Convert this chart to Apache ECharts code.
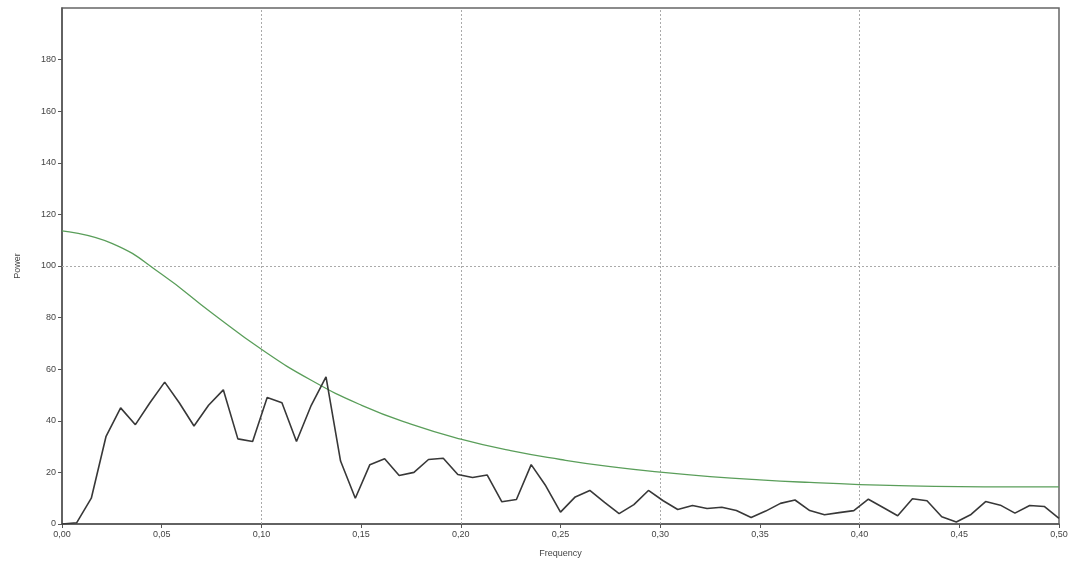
<!DOCTYPE html>
<html>
<head>
<meta charset="utf-8">
<script src="https://cdn.jsdelivr.net/npm/echarts@6/dist/echarts.min.js"></script>
<style>html,body{margin:0;padding:0;background:#fff}#c{width:1072px;height:565px}</style>
</head>
<body>
<div id="c"></div>
<script>
var freqs = [0, 0.0074, 0.0147, 0.0221, 0.0294, 0.0368, 0.0441, 0.0515, 0.0588, 0.0662, 0.0735, 0.0809, 0.0882, 0.0956, 0.1029, 0.1103, 0.1176, 0.1250, 0.1324, 0.1397, 0.1471, 0.1544, 0.1618, 0.1691, 0.1765, 0.1838, 0.1912, 0.1985, 0.2059, 0.2132, 0.2206, 0.2279, 0.2353, 0.2426, 0.2500, 0.2574, 0.2647, 0.2721, 0.2794, 0.2868, 0.2941, 0.3015, 0.3088, 0.3162, 0.3235, 0.3309, 0.3382, 0.3456, 0.3529, 0.3603, 0.3676, 0.3750, 0.3824, 0.3897, 0.3971, 0.4044, 0.4118, 0.4191, 0.4265, 0.4338, 0.4412, 0.4485, 0.4559, 0.4632, 0.4706, 0.4779, 0.4853, 0.4926, 0.5000];
var power = [0, 0.5, 10, 34, 45, 38.5, 47, 55, 47, 38, 46, 52, 33, 32, 49, 47, 32, 46, 57, 24.4, 10, 23, 25.3, 18.8, 20, 25, 25.5, 19.2, 18, 19, 8.6, 9.5, 23, 14.8, 4.6, 10.5, 13, 8.4, 4, 7.5, 13, 9, 5.6, 7.2, 6, 6.5, 5.2, 2.5, 5, 8, 9.3, 5.2, 3.6, 4.4, 5.2, 9.6, 6.4, 3.2, 9.8, 9, 2.8, 0.8, 3.7, 8.7, 7.3, 4.2, 7.2, 6.8, 2.2];
var fitFreqs = [0, 0.025, 0.05, 0.075, 0.1, 0.125, 0.15, 0.175, 0.2, 0.225, 0.25, 0.275, 0.3, 0.325, 0.35, 0.375, 0.4, 0.425, 0.45, 0.475, 0.5];
var fitPower = [113.6, 108.8, 96.8, 81.9, 67.7, 55.7, 46.1, 38.7, 32.9, 28.4, 25.0, 22.2, 20.1, 18.4, 17.1, 16.1, 15.3, 14.8, 14.5, 14.4, 14.4];
var gridFreqs = [0.1, 0.2, 0.3, 0.4];
var gridPowers = [100];

var pts = freqs.map(function (f, i) { return [f, power[i]]; });
var fitPts = fitFreqs.map(function (f, i) { return [f, fitPower[i]]; });
var guideLines = gridFreqs.map(function (f) { return { xAxis: f }; })
  .concat(gridPowers.map(function (p) { return { yAxis: p }; }));

var txt = { color: '#444', fontSize: 9, fontFamily: 'Liberation Sans, Arial, sans-serif' };
var chart = echarts.init(document.getElementById('c'));
chart.setOption({
  animation: false,
  backgroundColor: '#fff',
  grid: { left: 62, right: 13, top: 8, bottom: 41, show: true, borderColor: '#666', borderWidth: 1.5, backgroundColor: 'transparent' },
  xAxis: {
    type: 'value', min: 0, max: 0.5, interval: 0.05,
    name: 'Frequency', nameLocation: 'middle', nameGap: 25,
    nameTextStyle: txt,
    axisLine: { show: true, lineStyle: { color: '#555', width: 1.5 } },
    axisTick: { show: true, length: 4, lineStyle: { color: '#555' } },
    axisLabel: Object.assign({ margin: 6, formatter: function (v) { return v.toFixed(2).replace('.', ','); } }, txt),
    splitLine: { show: false }
  },
  yAxis: {
    type: 'value', min: 0, max: 200, interval: 20,
    name: 'Power', nameLocation: 'middle', nameGap: 40, nameRotate: 90,
    nameTextStyle: txt,
    axisLine: { show: true, lineStyle: { color: '#555', width: 1.5 } },
    axisTick: { show: true, length: 4, lineStyle: { color: '#555' } },
    axisLabel: Object.assign({ margin: 6, showMaxLabel: false }, txt),
    splitLine: { show: false }
  },
  series: [{
    type: 'line', data: fitPts, smooth: true, symbol: 'none',
    lineStyle: { color: '#5a9e5a', width: 1.3 }, z: 3,
    markLine: {
      silent: true, symbol: 'none', label: { show: false },
      lineStyle: { color: '#aaa', type: [2, 2], width: 1 },
      data: guideLines, z: 1
    }
  }, {
    type: 'line', data: pts, symbol: 'none',
    lineStyle: { color: '#383838', width: 1.6 }, z: 4
  }]
});
</script>
</body>
</html>
